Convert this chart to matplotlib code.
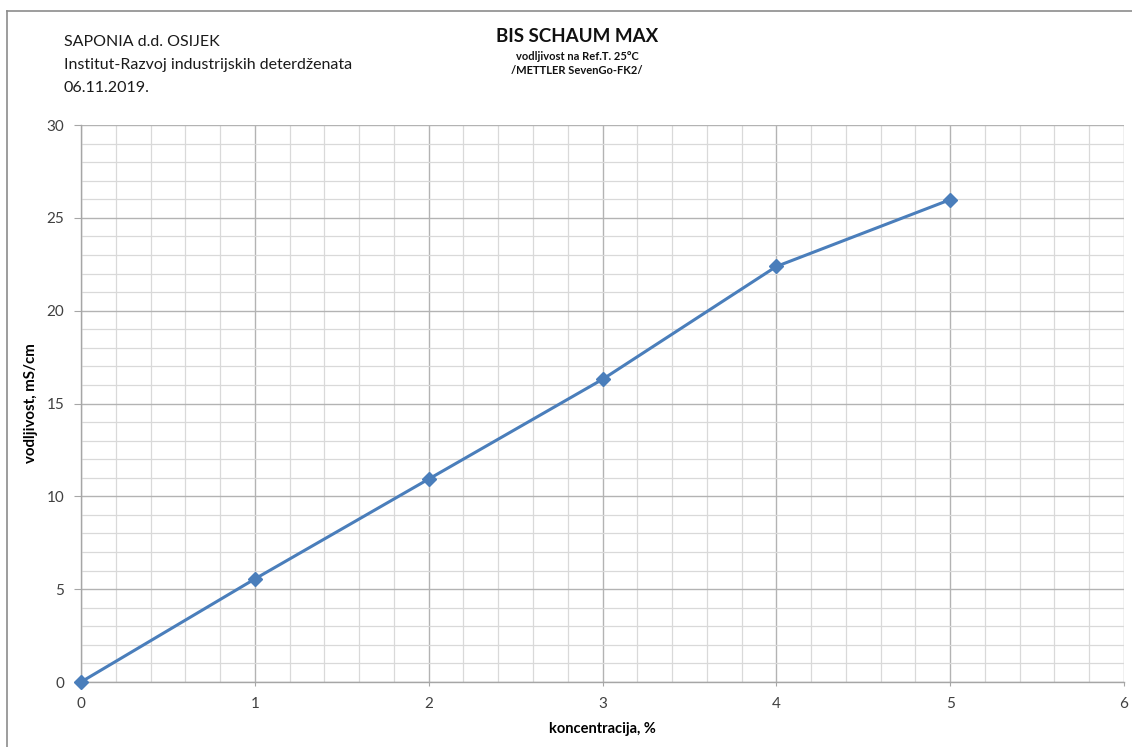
import matplotlib
matplotlib.use("Agg")
import matplotlib.pyplot as plt
from matplotlib.ticker import MultipleLocator
from matplotlib.lines import Line2D

plt.rcParams['font.family'] = ['Lato', 'DejaVu Sans']

koncentracija = [0, 1, 2, 3, 4, 5]
vodljivost = [0.0, 5.55, 10.93, 16.3, 22.38, 25.98]
x_ticks = [0, 1, 2, 3, 4, 5, 6]
y_ticks = [0, 5, 10, 15, 20, 25, 30]

W, H = 1132, 747
fig = plt.figure(figsize=(W / 100, H / 100), dpi=100)
ax = fig.add_axes([81 / W, 1 - 682 / H, (1124 - 81) / W, (682 - 125) / H])

ax.plot(koncentracija, vodljivost, color='#4a7ebb', lw=2.2, marker='D',
        markersize=7, markerfacecolor='#4a7ebb', markeredgecolor='#4a7ebb',
        zorder=3, clip_on=False)

ax.set_xlim(0, 6)
ax.set_ylim(0, 30)
ax.set_xticks(x_ticks)
ax.set_yticks(y_ticks)
ax.xaxis.set_minor_locator(MultipleLocator(0.2))
ax.yaxis.set_minor_locator(MultipleLocator(1))
ax.grid(which='major', color='#b3b3b3', lw=1.0)
ax.grid(which='minor', color='#d9d9d9', lw=0.9)
ax.set_axisbelow(True)
for s in ['top', 'right']:
    ax.spines[s].set_visible(False)
for s in ['left', 'bottom']:
    ax.spines[s].set_color('#a6a6a6')
    ax.spines[s].set_linewidth(1.0)
ax.tick_params(axis='y', which='major', length=5, color='#a6a6a6',
               labelsize=11, labelcolor='#404040', pad=7)
ax.tick_params(axis='x', which='major', length=3, color='#a6a6a6',
               labelsize=11, labelcolor='#404040', pad=8)
ax.tick_params(which='minor', length=0)

ax.set_xlabel('koncentracija, %', fontsize=10.5, fontweight='bold', labelpad=8)
ax.set_ylabel('vodljivost, mS/cm', fontsize=10.8, fontweight='bold', labelpad=6)

# header texts
fig.text(64 / W, 1 - 42 / H, 'SAPONIA d.d. OSIJEK', fontsize=11.5, va='center', color='#1a1a1a')
fig.text(64 / W, 1 - 65 / H, 'Institut-Razvoj industrijskih deterdženata', fontsize=11.5,
         va='center', color='#1a1a1a')
fig.text(64 / W, 1 - 88 / H, '06.11.2019.', fontsize=11.5, va='center', color='#1a1a1a')
fig.text(577 / W, 1 - 37 / H, 'BIS SCHAUM MAX', fontsize=13.5, fontweight='bold',
         ha='center', va='center', color='#111111')
fig.text(577 / W, 1 - 57 / H, 'vodljivost na Ref.T. 25°C', fontsize=8, fontweight='bold',
         ha='center', va='center', color='#111111')
fig.text(577 / W, 1 - 71 / H, '/METTLER SevenGo-FK2/', fontsize=8, fontweight='bold',
         ha='center', va='center', color='#111111')

# outer chart frame (left and top edges visible)
fig.add_artist(Line2D([7 / W, 7 / W], [0, 1 - 11 / H], transform=fig.transFigure,
                      color='#8c8c8c', lw=1.2))
fig.add_artist(Line2D([7 / W, 1], [1 - 11 / H, 1 - 11 / H], transform=fig.transFigure,
                      color='#8c8c8c', lw=1.2))

fig.savefig('out.png', dpi=100)
